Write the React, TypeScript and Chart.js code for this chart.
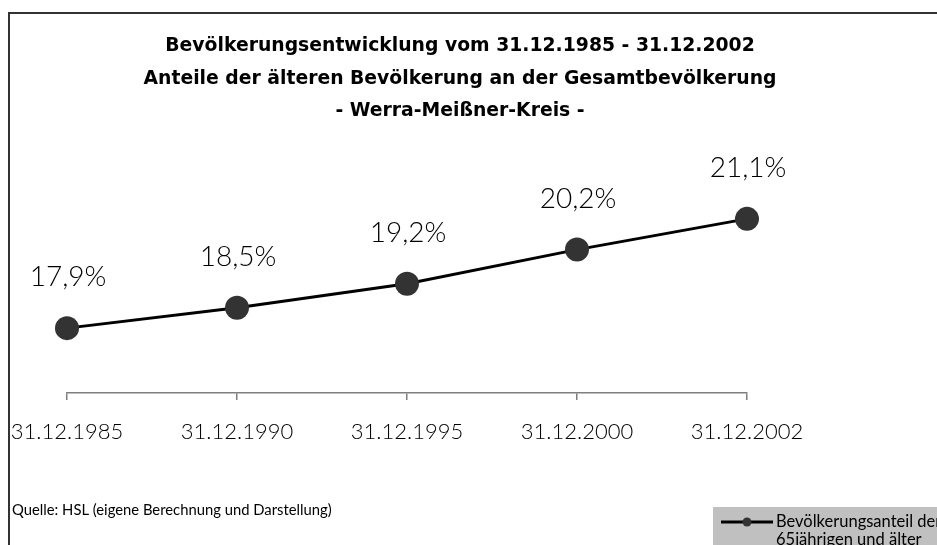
import React, { useEffect, useRef } from "react";
import { Chart, registerables } from "chart.js";

Chart.register(...registerables);

const categories = ["31.12.1985", "31.12.1990", "31.12.1995", "31.12.2000", "31.12.2002"];
const shareValues = [17.9, 18.5, 19.2, 20.2, 21.1];
const valueLabels = ["17,9%", "18,5%", "19,2%", "20,2%", "21,1%"];
const titleLines = [
  "Bevölkerungsentwicklung vom 31.12.1985 - 31.12.2002",
  "Anteile der älteren Bevölkerung an der Gesamtbevölkerung",
  "- Werra-Meißner-Kreis -",
];
const sourceText = "Quelle: HSL (eigene Berechnung und Darstellung)";
const legendLines = ["Bevölkerungsanteil der", "65jährigen und älter"];

const FONT = "Lato, 'DejaVu Sans', sans-serif";
const TITLE_FONT = "'DejaVu Sans', sans-serif";

const decorPlugin = {
  id: "decor",
  beforeDraw(chart: any) {
    const ctx = chart.ctx;
    ctx.save();
    // frame
    ctx.strokeStyle = "#333333";
    ctx.lineWidth = 2;
    ctx.beginPath();
    ctx.moveTo(9, 545);
    ctx.lineTo(9, 13);
    ctx.lineTo(937, 13);
    ctx.stroke();
    // title
    ctx.fillStyle = "#000000";
    ctx.textAlign = "center";
    ctx.textBaseline = "alphabetic";
    ctx.font = `bold 18.8px ${TITLE_FONT}`;
    titleLines.forEach((t, i) => ctx.fillText(t, 460, 51 + i * 32.5));
    // source
    ctx.textAlign = "left";
    ctx.textBaseline = "middle";
    ctx.font = `14.8px ${FONT}`;
    ctx.fillText(sourceText, 12, 510);
    // legend box
    ctx.fillStyle = "#c0c0c0";
    ctx.fillRect(713, 507, 224, 38);
    ctx.strokeStyle = "#000000";
    ctx.lineWidth = 3;
    ctx.beginPath();
    ctx.moveTo(721, 522);
    ctx.lineTo(773, 522);
    ctx.stroke();
    ctx.fillStyle = "#333333";
    ctx.beginPath();
    ctx.arc(747, 522, 4.5, 0, Math.PI * 2);
    ctx.fill();
    ctx.fillStyle = "#000000";
    ctx.font = `16.5px ${FONT}`;
    ctx.textBaseline = "middle";
    ctx.fillText(legendLines[0], 776, 522);
    ctx.fillText(legendLines[1], 776, 540);
    ctx.restore();
  },
  afterDatasetsDraw(chart: any) {
    const ctx = chart.ctx;
    const meta = chart.getDatasetMeta(0);
    ctx.save();
    ctx.fillStyle = "#000000";
    ctx.font = `300 28px ${FONT}`;
    ctx.textAlign = "center";
    ctx.textBaseline = "alphabetic";
    meta.data.forEach((pt: any, i: number) => {
      ctx.fillText(valueLabels[i], pt.x + 1, pt.y - 42);
    });
    ctx.restore();
  },
};

export default function App() {
  const ref = useRef<HTMLCanvasElement>(null);
  useEffect(() => {
    document.body.style.margin = "0";
    const chart = new Chart(ref.current!, {
      type: "line",
      data: {
        labels: categories,
        datasets: [
          {
            label: legendLines.join(" "),
            data: shareValues,
            borderColor: "#000000",
            borderWidth: 3,
            pointBackgroundColor: "#333333",
            pointBorderColor: "#333333",
            pointRadius: 12,
            pointBorderWidth: 0,
            tension: 0,
          },
        ],
      },
      options: {
        animation: false,
        responsive: false,
        layout: { padding: { left: 67, right: 190, top: 154, bottom: 72 } },
        plugins: { legend: { display: false }, title: { display: false }, tooltip: { enabled: false } },
        scales: {
          x: {
            offset: false,
            grid: { drawOnChartArea: false, drawTicks: true, tickLength: 7, color: "#7f7f7f", lineWidth: 1.5 },
            border: { display: true, color: "#7f7f7f", width: 1.5 },
            ticks: { color: "#000000", font: { family: FONT, size: 22, weight: 300 }, padding: 19, maxRotation: 0, autoSkip: false },
            afterFit: (s: any) => {
              s.height = 80;
              s.paddingLeft = 0;
              s.paddingRight = 0;
            },
          },
          y: { display: false, min: 16, max: 23 },
        },
      },
      plugins: [decorPlugin],
    });
    return () => chart.destroy();
  }, []);
  return (
    <canvas
      ref={ref}
      width={937}
      height={545}
      style={{ position: "absolute", left: 0, top: 0, display: "block", width: 937, height: 545 }}
    />
  );
}
